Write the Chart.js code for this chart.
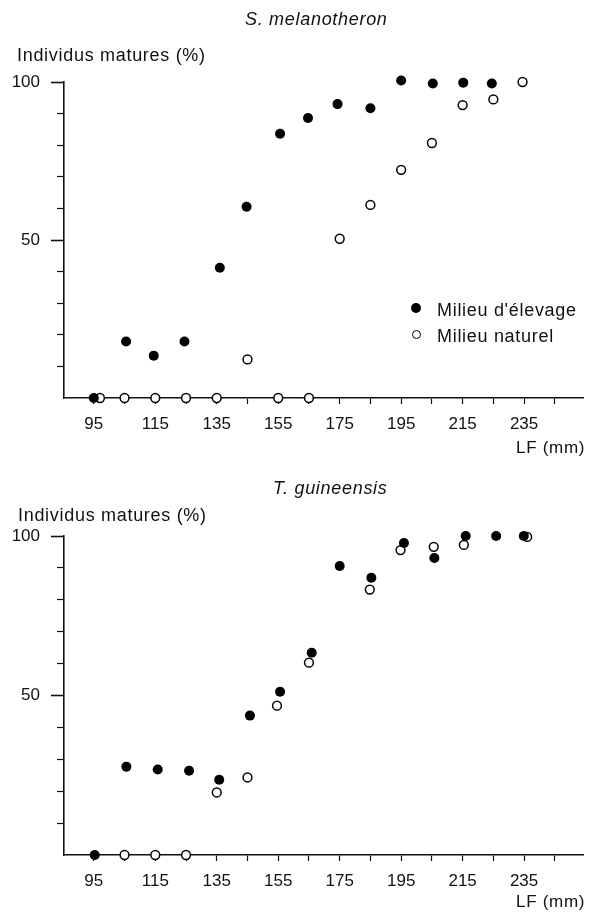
<!DOCTYPE html>
<html>
<head>
<meta charset="utf-8">
<script src="https://cdn.jsdelivr.net/npm/chart.js@4/dist/chart.umd.min.js"></script>
<style>
body{margin:0;background:#fff;font-family:"Liberation Sans",Arial,sans-serif;color:#111;}
#wrap{position:relative;width:589px;height:913px;overflow:hidden;background:#fff;}
canvas{position:absolute;left:0;}
.t{position:absolute;font-size:18px;line-height:18px;letter-spacing:0.7px;white-space:nowrap;}
.dot{position:absolute;border-radius:50%;box-sizing:border-box;}
</style>
</head>
<body>
<div id="wrap">
  <canvas id="c1" width="589" height="460" style="top:0"></canvas>
  <canvas id="c2" width="589" height="453" style="top:460px"></canvas>

  <div class="t" style="left:245px;top:10px;font-style:italic">S. melanotheron</div>
  <div class="t" style="left:17px;top:46px">Individus matures (%)</div>
  <div class="t" style="left:516px;top:439px;font-size:17px">LF (mm)</div>

  <div class="dot" style="left:411px;top:303px;width:10px;height:10px;background:#000"></div>
  <div class="t" style="left:437px;top:301px">Milieu d'élevage</div>
  <div class="dot" style="left:412px;top:330px;width:9px;height:9px;border:1.5px solid #000;background:#fff"></div>
  <div class="t" style="left:437px;top:327px">Milieu naturel</div>

  <div class="t" style="left:273px;top:479px;font-style:italic">T. guineensis</div>
  <div class="t" style="left:18px;top:506px">Individus matures (%)</div>
  <div class="t" style="left:516px;top:893px;font-size:17px">LF (mm)</div>
</div>
<script>
// axes
const lfTicks = [95, 105, 115, 125, 135, 145, 155, 165, 175, 185, 195, 205, 215, 225, 235, 245];
const lfLabels = [95, 115, 135, 155, 175, 195, 215, 235];
const pctMajor = [50, 100];
const pctMinor = [10, 20, 30, 40, 60, 70, 80, 90];

// S. melanotheron
const melElevageLF  = [95, 105.5, 114.5, 124.5, 136, 144.7, 155.6, 164.7, 174.3, 185, 195, 205.3, 215.2, 224.5];
const melElevagePct = [0, 17.9, 13.4, 17.9, 41.2, 60.5, 83.6, 88.6, 93, 91.7, 100.5, 99.5, 99.8, 99.5];
const melNaturelLF  = [97, 105, 115, 125, 135, 145, 155, 165, 175, 185, 195, 205, 215, 225, 234.5];
const melNaturelPct = [0, 0, 0, 0, 0, 12.2, 0, 0, 50.4, 61.1, 72.2, 80.7, 92.7, 94.5, 100];

// T. guineensis
const guiElevageLF  = [95.3, 105.6, 115.8, 126, 135.8, 145.8, 155.6, 165.9, 175, 185.3, 195.9, 205.8, 216, 225.9, 234.9];
const guiElevagePct = [0, 27.7, 26.8, 26.4, 23.6, 43.7, 51.2, 63.4, 90.6, 86.9, 97.8, 93.1, 100, 100, 100];
const guiNaturelLF  = [105, 115, 125, 135, 145, 154.6, 165, 184.8, 194.8, 205.6, 215.4, 236];
const guiNaturelPct = [0, 0, 0, 19.6, 24.3, 46.8, 60.3, 83.2, 95.6, 96.6, 97.2, 99.7];

const tickFont = { family: '"Liberation Sans", Arial, sans-serif', size: 17 };

function pts(xs, ys) {
  return xs.map((x, i) => ({ x: x, y: ys[i] }));
}

function makeChart(id, elevage, naturel, padTop, xHeight) {
  return new Chart(document.getElementById(id), {
    type: 'scatter',
    data: {
      datasets: [
        {
          label: "Milieu d'élevage",
          data: elevage,
          pointRadius: 5,
          pointBackgroundColor: '#000',
          pointBorderColor: '#000',
          pointBorderWidth: 0,
          clip: false
        },
        {
          label: 'Milieu naturel',
          data: naturel,
          pointRadius: 4.4,
          pointBackgroundColor: '#fff',
          pointBorderColor: '#000',
          pointBorderWidth: 1.5,
          clip: false
        }
      ]
    },
    options: {
      responsive: false,
      animation: false,
      devicePixelRatio: 1,
      events: [],
      layout: { padding: { left: 0, right: 5, top: padTop, bottom: 0 } },
      plugins: { legend: { display: false }, tooltip: { enabled: false } },
      scales: {
        x: {
          type: 'linear',
          min: 85.3,
          max: 254.2,
          afterFit: (s) => { s.height = xHeight; },
          afterBuildTicks: (s) => { s.ticks = lfTicks.map(v => ({ value: v })); },
          border: { display: true, color: '#111', width: 1.6 },
          grid: { drawOnChartArea: false, drawTicks: true, tickLength: 6, color: '#111', tickWidth: 1.2 },
          ticks: {
            autoSkip: false,
            maxRotation: 0,
            padding: 10,
            color: '#111',
            font: tickFont,
            callback: (v) => lfLabels.includes(v) ? String(v) : ''
          }
        },
        y: {
          type: 'linear',
          position: 'left',
          weight: 1,
          min: 0,
          max: 100,
          afterFit: (s) => { s.width = 64; },
          afterBuildTicks: (s) => { s.ticks = pctMajor.map(v => ({ value: v })); },
          border: { display: true, color: '#111', width: 1.6 },
          grid: { drawOnChartArea: false, drawTicks: true, tickLength: 13, color: '#111', tickWidth: 1.6 },
          ticks: { padding: 11, color: '#111', font: tickFont, callback: (v) => String(v) }
        },
        yMinor: {
          type: 'linear',
          position: 'left',
          weight: 0,
          min: 0,
          max: 100,
          afterFit: (s) => { s.width = 0; },
          afterBuildTicks: (s) => { s.ticks = pctMinor.map(v => ({ value: v })); },
          border: { display: false },
          grid: { drawOnChartArea: false, drawTicks: true, tickLength: 7, color: '#111', tickWidth: 1.2 },
          ticks: { display: false }
        }
      }
    }
  });
}

makeChart('c1', pts(melElevageLF, melElevagePct), pts(melNaturelLF, melNaturelPct), 82, 62);
makeChart('c2', pts(guiElevageLF, guiElevagePct), pts(guiNaturelLF, guiNaturelPct), 76, 58);
</script>
</body>
</html>
